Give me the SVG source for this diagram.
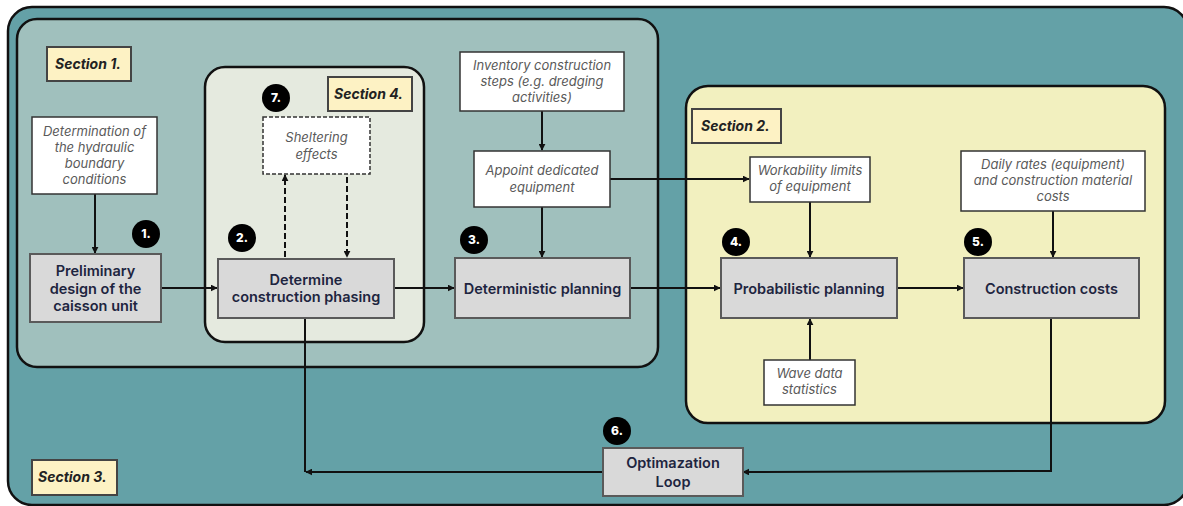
<svg xmlns="http://www.w3.org/2000/svg" width="1183" height="506" viewBox="0 0 1183 506">
<defs>
<marker id="ah" viewBox="0 0 10 10" refX="9" refY="5" markerWidth="7" markerHeight="7" orient="auto-start-reverse" markerUnits="userSpaceOnUse">
<path d="M0,0 L10,5 L0,10 z" fill="#111"/>
</marker>
<style>
.sec{stroke:#111;stroke-width:2.5}
.lbl{fill:#fdf2c4;stroke:#444;stroke-width:2}
.lt{font-family:Inter,"Liberation Sans",sans-serif;font-size:14px;font-weight:bold;font-style:italic;fill:#222}
.main{fill:#d9d9d9;stroke:#5a5a5a;stroke-width:2}
.mt{font-family:Inter,"Liberation Sans",sans-serif;font-size:14.5px;font-weight:600;fill:#1e2540;text-anchor:middle}
.inp{fill:#fff;stroke:#333;stroke-width:1.5}
.it{font-family:Inter,"Liberation Sans",sans-serif;font-size:13px;font-style:italic;fill:#5a5a5a;text-anchor:middle}
.badge{fill:#000}
.bt{font-family:Inter,"Liberation Sans",sans-serif;font-size:12px;font-weight:800;fill:#fff;text-anchor:middle}
.c{fill:none;stroke:#111;stroke-width:2}
.d{fill:none;stroke:#111;stroke-width:2;stroke-dasharray:6,3}
</style>
</defs>
<rect width="1183" height="506" fill="#fff"/>
<g id="section3">
<rect class="sec" x="8" y="7" width="1180" height="498" rx="24" fill="#64a1a7"/>
</g>
<g id="section1">
<rect class="sec" x="17" y="19" width="641" height="348" rx="20" fill="#a0c0bd"/>
</g>
<g id="section4">
<rect class="sec" x="205" y="67" width="219" height="275" rx="20" fill="#e5eadf"/>
</g>
<g id="section2">
<rect class="sec" x="686" y="86" width="479" height="337" rx="22" fill="#f2f0bf"/>
</g>
<g id="label-s1"><rect class="lbl" x="47" y="47" width="84" height="34"/><text class="lt" x="55" y="69">Section 1.</text></g>
<g id="label-s4"><rect class="lbl" x="328" y="77" width="84" height="34"/><text class="lt" x="334" y="99">Section 4.</text></g>
<g id="label-s2"><rect class="lbl" x="692" y="109" width="89" height="34"/><text class="lt" x="701" y="131">Section 2.</text></g>
<g id="label-s3"><rect class="lbl" x="32" y="460" width="85" height="35"/><text class="lt" x="38" y="482">Section 3.</text></g>

<g id="connectors">
<line class="c" x1="95" y1="194" x2="95" y2="253" marker-end="url(#ah)"/>
<line class="c" x1="161" y1="288" x2="217" y2="288" marker-end="url(#ah)"/>
<line class="c" x1="394" y1="288" x2="454" y2="288" marker-end="url(#ah)"/>
<line class="c" x1="630" y1="288" x2="720" y2="288" marker-end="url(#ah)"/>
<line class="c" x1="897" y1="288" x2="963" y2="288" marker-end="url(#ah)"/>
<line class="c" x1="542" y1="111" x2="542" y2="150" marker-end="url(#ah)"/>
<line class="c" x1="542" y1="207" x2="542" y2="257" marker-end="url(#ah)"/>
<line class="c" x1="610" y1="179" x2="749" y2="179" marker-end="url(#ah)"/>
<line class="c" x1="810" y1="202" x2="810" y2="257" marker-end="url(#ah)"/>
<line class="c" x1="1053" y1="211" x2="1053" y2="257" marker-end="url(#ah)"/>
<line class="c" x1="810" y1="360" x2="810" y2="319" marker-end="url(#ah)"/>
<line class="d" x1="285" y1="257" x2="285" y2="175" marker-end="url(#ah)"/>
<line class="d" x1="347" y1="177" x2="347" y2="257" marker-end="url(#ah)"/>
<polyline class="c" points="1051,318 1051,471 743,472" marker-end="url(#ah)"/>
<line class="c" x1="305" y1="318" x2="305" y2="472"/>
<line class="c" x1="603" y1="472" x2="306" y2="472" marker-end="url(#ah)"/>
</g>

<g id="n-hydraulic">
<rect class="inp" x="32" y="117" width="125" height="77"/>
<text class="it" x="94.5" y="136">Determination of</text>
<text class="it" x="94.5" y="152">the hydraulic</text>
<text class="it" x="94.5" y="168">boundary</text>
<text class="it" x="94.5" y="184">conditions</text>
</g>
<g id="n-preliminary">
<rect class="main" x="30" y="254" width="131" height="68"/>
<text class="mt" x="95.5" y="276">Preliminary</text>
<text class="mt" x="95.5" y="294">design of the</text>
<text class="mt" x="95.5" y="311">caisson unit</text>
</g>
<g id="b1"><circle class="badge" cx="146" cy="234" r="14"/><text class="bt" x="146" y="238">1.</text></g>
<g id="n-phasing">
<rect class="main" x="218" y="259" width="176" height="59"/>
<text class="mt" x="306" y="285">Determine</text>
<text class="mt" x="306" y="302">construction phasing</text>
</g>
<g id="b2"><circle class="badge" cx="242" cy="238" r="14"/><text class="bt" x="242" y="242">2.</text></g>
<g id="n-sheltering">
<rect x="263" y="117" width="107" height="57" fill="#fff" stroke="#333" stroke-width="1.5" stroke-dasharray="4,2"/>
<text class="it" x="316.5" y="142">Sheltering</text>
<text class="it" x="316.5" y="159">effects</text>
</g>
<g id="b7"><circle class="badge" cx="276" cy="98" r="14"/><text class="bt" x="276" y="102">7.</text></g>
<g id="n-inventory">
<rect class="inp" x="460" y="52" width="164" height="59"/>
<text class="it" x="542" y="70">Inventory construction</text>
<text class="it" x="542" y="86">steps (e.g. dredging</text>
<text class="it" x="542" y="102">activities)</text>
</g>
<g id="n-appoint">
<rect class="inp" x="474" y="151" width="136" height="56"/>
<text class="it" x="542" y="175">Appoint dedicated</text>
<text class="it" x="542" y="192">equipment</text>
</g>
<g id="b3"><circle class="badge" cx="474" cy="240" r="14"/><text class="bt" x="474" y="244">3.</text></g>
<g id="n-deterministic">
<rect class="main" x="455" y="258" width="175" height="60"/>
<text class="mt" x="542.5" y="294">Deterministic planning</text>
</g>
<g id="n-workability">
<rect class="inp" x="750" y="157" width="120" height="45"/>
<text class="it" x="810" y="175">Workability limits</text>
<text class="it" x="810" y="191">of equipment</text>
</g>
<g id="n-daily">
<rect class="inp" x="961" y="151" width="184" height="60"/>
<text class="it" x="1053" y="169">Daily rates (equipment)</text>
<text class="it" x="1053" y="185">and construction material</text>
<text class="it" x="1053" y="201">costs</text>
</g>
<g id="b4"><circle class="badge" cx="736" cy="242" r="14"/><text class="bt" x="736" y="246">4.</text></g>
<g id="b5"><circle class="badge" cx="978" cy="242" r="14"/><text class="bt" x="978" y="246">5.</text></g>
<g id="n-probabilistic">
<rect class="main" x="721" y="258" width="176" height="60"/>
<text class="mt" x="809" y="294">Probabilistic planning</text>
</g>
<g id="n-costs">
<rect class="main" x="964" y="258" width="175" height="60"/>
<text class="mt" x="1051.5" y="294">Construction costs</text>
</g>
<g id="n-wave">
<rect class="inp" x="764" y="360" width="91" height="45"/>
<text class="it" x="809.5" y="378">Wave data</text>
<text class="it" x="809.5" y="394">statistics</text>
</g>
<g id="b6"><circle class="badge" cx="617" cy="431" r="14"/><text class="bt" x="617" y="435">6.</text></g>
<g id="n-loop">
<rect class="main" x="603" y="448" width="140" height="48"/>
<text class="mt" x="673" y="468">Optimazation</text>
<text class="mt" x="673" y="487">Loop</text>
</g>
</svg>
